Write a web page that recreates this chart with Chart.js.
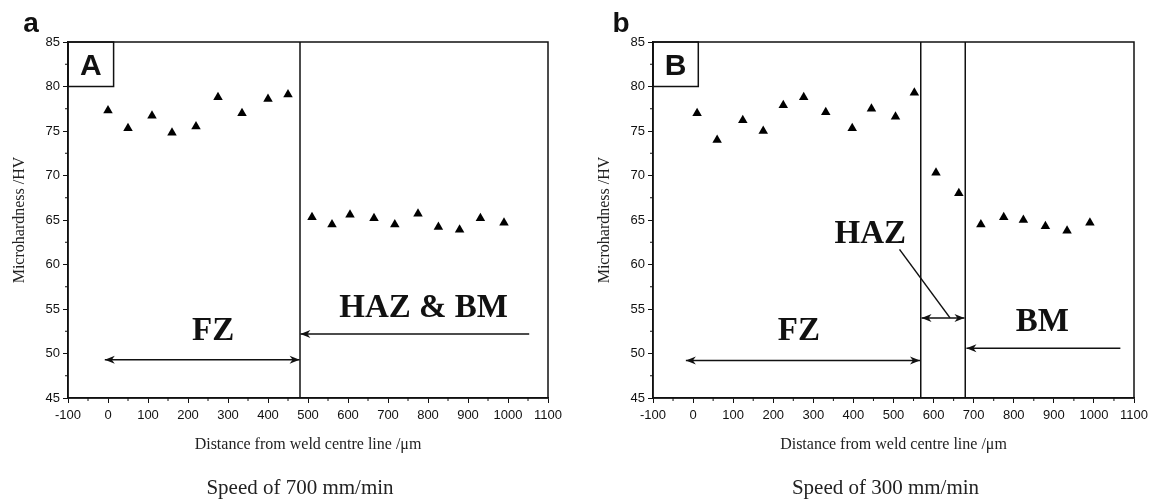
<!DOCTYPE html>
<html>
<head>
<meta charset="utf-8">
<script src="https://cdn.jsdelivr.net/npm/chart.js@4.4.0/dist/chart.umd.min.js"></script>
<style>
  body { margin: 0; background: #fff; }
  #wrap { position: relative; width: 1155px; height: 503px; overflow: hidden; }
  canvas { position: absolute; top: 0; }
</style>
</head>
<body>
<div id="wrap">
  <canvas id="chartA" width="577" height="503" style="left:0"></canvas>
  <canvas id="chartB" width="578" height="503" style="left:577px"></canvas>
</div>
<script>
// 数据：焊缝中心距离 (μm) 和显微硬度 (HV)
const distA = [0, 50, 110, 160, 220, 275, 335, 400, 450, 510, 560, 605, 665, 717, 775, 826, 879, 931, 990];
const hardA = [77.3, 75.3, 76.7, 74.8, 75.5, 78.8, 77.0, 78.6, 79.1, 65.3, 64.5, 65.6, 65.2, 64.5, 65.7, 64.2, 63.9, 65.2, 64.7];

const distB = [10, 60, 124, 175, 225, 276, 331, 397, 445, 505, 552, 606, 663, 718, 775, 824, 879, 933, 990];
const hardB = [77.0, 74.0, 76.2, 75.0, 77.9, 78.8, 77.1, 75.3, 77.5, 76.6, 79.3, 70.3, 68.0, 64.5, 65.3, 65.0, 64.3, 63.8, 64.7];

// 区域分界
const boundsA = [480];
const boundsB = [568, 679];

const xTitle = 'Distance from weld centre line /\u03bcm';
const yTitle = 'Microhardness /HV';

function line(ctx, x1, y1, x2, y2) {
    ctx.beginPath();
    ctx.moveTo(x1, y1);
    ctx.lineTo(x2, y2);
    ctx.stroke();
}

function arrowHead(ctx, x0, y0, dir) {
    const len = 10, half = 4;
    ctx.beginPath();
    ctx.moveTo(x0, y0);
    ctx.lineTo(x0 - dir * len, y0 - half);
    ctx.lineTo(x0 - dir * len * 0.7, y0);
    ctx.lineTo(x0 - dir * len, y0 + half);
    ctx.closePath();
    ctx.fill();
}

// 标注插件：外框、分区线、箭头、文字、次刻度
const zonePlugin = {
    id: 'zones',
    afterDraw(chart, args, opts) {
        const { ctx, chartArea: a, scales: { x, y } } = chart;
        ctx.save();
        ctx.strokeStyle = '#111';
        ctx.fillStyle = '#111';
        ctx.lineWidth = 1.5;
        ctx.strokeRect(a.left, a.top, a.right - a.left, a.bottom - a.top);

        opts.lines.forEach(v => {
            const px = x.getPixelForValue(v);
            line(ctx, px, a.top, px, a.bottom);
        });

        // 左上角小框
        const bx = x.getPixelForValue(opts.box.x);
        const by = y.getPixelForValue(opts.box.y);
        ctx.strokeRect(a.left, a.top, bx - a.left, by - a.top);
        ctx.font = 'bold 30px "Liberation Sans"';
        ctx.textAlign = 'center';
        ctx.textBaseline = 'alphabetic';
        ctx.fillText(opts.box.text, (a.left + bx) / 2, (a.top + by) / 2 + 11);

        ctx.font = 'bold 33px "Liberation Serif"';
        opts.labels.forEach(l => {
            ctx.fillText(l.text, x.getPixelForValue(l.x), y.getPixelForValue(l.y) + 11);
        });

        ctx.lineWidth = 1.5;
        opts.arrows.forEach(ar => {
            const x1 = x.getPixelForValue(ar.x1);
            const x2 = x.getPixelForValue(ar.x2);
            const py = y.getPixelForValue(ar.y);
            line(ctx, x1, py, x2, py);
            const dir = x2 > x1 ? 1 : -1;
            arrowHead(ctx, x2, py, dir);
            if (ar.both) arrowHead(ctx, x1, py, -dir);
        });

        (opts.leaders || []).forEach(ld => {
            line(ctx, x.getPixelForValue(ld[0]), y.getPixelForValue(ld[1]),
                x.getPixelForValue(ld[2]), y.getPixelForValue(ld[3]));
        });

        // 次刻度
        ctx.lineWidth = 1;
        for (let v = -50; v < 1100; v += 100) {
            const px = x.getPixelForValue(v);
            line(ctx, px, a.bottom, px, a.bottom + 3);
        }
        for (let v = 47.5; v < 85; v += 5) {
            const py = y.getPixelForValue(v);
            line(ctx, a.left, py, a.left - 3, py);
        }

        // 面板字母和说明
        ctx.font = 'bold 28px "Liberation Sans"';
        ctx.textAlign = 'center';
        ctx.fillText(opts.panel.text, opts.panel.x, 32);
        ctx.font = '21px "Liberation Serif"';
        ctx.fillStyle = '#222';
        ctx.fillText(opts.caption, (a.left + a.right) / 2 - 8, 494);
        ctx.restore();
    }
};

function makeChart(id, dist, hard, leftW, rightPad, zones) {
    const ctx = document.getElementById(id).getContext('2d');
    return new Chart(ctx, {
        type: 'scatter',
        data: {
            datasets: [{
                data: dist.map((d, i) => ({ x: d, y: hard[i] })),
                pointStyle: 'triangle',
                pointRadius: 5.5,
                pointHoverRadius: 5.5,
                backgroundColor: '#000',
                borderColor: '#000',
                borderWidth: 0
            }]
        },
        options: {
            responsive: false,
            animation: false,
            devicePixelRatio: 1,
            layout: { padding: { left: 0, top: 42, right: rightPad, bottom: 45 } },
            plugins: {
                legend: { display: false },
                tooltip: { enabled: false },
                zones: zones
            },
            scales: {
                x: {
                    type: 'linear',
                    min: -100,
                    max: 1100,
                    afterFit: s => { s.height = 60; },
                    border: { display: true, color: '#111', width: 1.5 },
                    grid: { drawOnChartArea: false, drawTicks: true, tickLength: 5, color: '#111' },
                    ticks: {
                        stepSize: 100,
                        maxRotation: 0,
                        autoSkip: false,
                        padding: 5,
                        color: '#111',
                        font: { family: 'Liberation Sans', size: 13 },
                        callback: v => String(v)
                    },
                    title: {
                        display: true,
                        text: xTitle,
                        color: '#222',
                        padding: { top: 0, bottom: 4 },
                        font: { family: 'Liberation Serif', size: 16 }
                    }
                },
                y: {
                    min: 45,
                    max: 85,
                    afterFit: s => { s.width = leftW; },
                    border: { display: true, color: '#111', width: 1.5 },
                    grid: { drawOnChartArea: false, drawTicks: true, tickLength: 5, color: '#111' },
                    ticks: {
                        stepSize: 5,
                        padding: 3,
                        color: '#111',
                        font: { family: 'Liberation Sans', size: 13 }
                    },
                    title: {
                        display: true,
                        text: yTitle,
                        color: '#222',
                        padding: { top: leftW - 58, bottom: 0 },
                        font: { family: 'Liberation Serif', size: 16 }
                    }
                }
            }
        },
        plugins: [zonePlugin]
    });
}

makeChart('chartA', distA, hardA, 68, 29, {
    lines: boundsA,
    box: { x: 14, y: 80, text: 'A' },
    labels: [{ text: 'FZ', x: 263, y: 52.8 }, { text: 'HAZ & BM', x: 789, y: 55.3 }],
    arrows: [{ x1: -8, x2: 479, y: 49.3, both: true }, { x1: 1053, x2: 481, y: 52.2 }],
    panel: { text: 'a', x: 31 },
    caption: 'Speed of 700 mm/min'
});

makeChart('chartB', distB, hardB, 76, 21, {
    lines: boundsB,
    box: { x: 13, y: 80, text: 'B' },
    labels: [{ text: 'FZ', x: 264, y: 52.8 }, { text: 'HAZ', x: 442, y: 63.6 }, { text: 'BM', x: 871, y: 53.8 }],
    arrows: [{ x1: -18, x2: 566, y: 49.2, both: true }, { x1: 570, x2: 677, y: 54.0, both: true },
             { x1: 1066, x2: 682, y: 50.6 }],
    leaders: [[515, 61.7, 641, 54.0]],
    panel: { text: 'b', x: 44 },
    caption: 'Speed of 300 mm/min'
});
</script>
</body>
</html>
